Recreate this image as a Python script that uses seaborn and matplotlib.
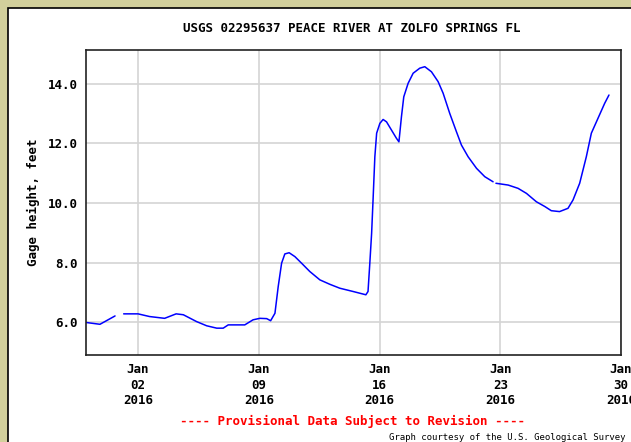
import numpy as np
import pandas as pd
import seaborn as sns
import matplotlib.pyplot as plt
from matplotlib.patches import Rectangle

# gage height readings (NaN = gap in record)
times = [
    "2015-12-30 00:00", "2015-12-30 19:00", "2015-12-31 16:00", "2015-12-31 20:00",
    "2016-01-01 04:00", "2016-01-02 00:00", "2016-01-02 16:00", "2016-01-03 13:00",
    "2016-01-04 05:00", "2016-01-04 15:00", "2016-01-05 09:30", "2016-01-05 23:30",
    "2016-01-06 13:30", "2016-01-06 22:30", "2016-01-07 05:30", "2016-01-08 04:30",
    "2016-01-08 16:00", "2016-01-09 01:30", "2016-01-09 11:00", "2016-01-09 16:30",
    "2016-01-09 22:30", "2016-01-10 03:00", "2016-01-10 07:45", "2016-01-10 12:15",
    "2016-01-10 18:15", "2016-01-11 02:15", "2016-01-11 11:30", "2016-01-11 23:00",
    "2016-01-12 13:00", "2016-01-13 03:00", "2016-01-13 16:45", "2016-01-14 11:15",
    "2016-01-15 05:00", "2016-01-15 08:00", "2016-01-15 10:30", "2016-01-15 13:00",
    "2016-01-15 15:00", "2016-01-15 17:30", "2016-01-15 20:00", "2016-01-16 00:30",
    "2016-01-16 05:00", "2016-01-16 09:45", "2016-01-16 16:30", "2016-01-16 23:30",
    "2016-01-17 03:00", "2016-01-17 06:30", "2016-01-17 09:45", "2016-01-17 15:45",
    "2016-01-17 22:45", "2016-01-18 08:00", "2016-01-18 15:00", "2016-01-19 00:15",
    "2016-01-19 09:30", "2016-01-19 16:30", "2016-01-20 01:45", "2016-01-20 11:00",
    "2016-01-20 18:00", "2016-01-21 03:15", "2016-01-21 15:00", "2016-01-22 02:30",
    "2016-01-22 14:00", "2016-01-22 16:00", "2016-01-22 18:00", "2016-01-23 11:00",
    "2016-01-24 00:45", "2016-01-24 12:30", "2016-01-25 02:15", "2016-01-25 14:00",
    "2016-01-25 23:00", "2016-01-26 10:30", "2016-01-26 22:15", "2016-01-27 05:15",
    "2016-01-27 14:30", "2016-01-27 23:45", "2016-01-28 06:45", "2016-01-28 16:00",
    "2016-01-29 01:15", "2016-01-29 07:15",
]
gage_ft = [
    5.99, 5.93, 6.21, np.nan,
    6.28, 6.28, 6.19, 6.13,
    6.28, 6.25, 6.02, 5.88,
    5.80, 5.80, 5.91, 5.91,
    6.08, 6.13, 6.12, 6.05,
    6.30, 7.19, 7.98, 8.29,
    8.33, 8.20, 7.98, 7.70,
    7.42, 7.27, 7.14, 7.03,
    6.92, 7.03, 7.98, 8.98,
    10.10, 11.55, 12.34, 12.67,
    12.80, 12.72, 12.45, 12.17,
    12.05, 12.89, 13.56, 14.01,
    14.35, 14.52, 14.57, 14.40,
    14.07, 13.68, 13.00, 12.39,
    11.94, 11.55, 11.16, 10.88,
    10.71, np.nan, 10.66, 10.60,
    10.49, 10.32, 10.04, 9.88,
    9.74, 9.71, 9.82, 10.10,
    10.66, 11.55, 12.34, 12.84,
    13.34, 13.62,
]
tick_dates = ["2016-01-02", "2016-01-09", "2016-01-16", "2016-01-23", "2016-01-30"]
tick_labels = ["Jan\n02\n2016", "Jan\n09\n2016", "Jan\n16\n2016", "Jan\n23\n2016", "Jan\n30\n2016"]
y_ticks = [6, 8, 10, 12, 14]

df = pd.DataFrame({"time": pd.to_datetime(times), "gage": gage_ft})
# split at the gaps so the line is broken there
df["seg"] = df["gage"].isna().cumsum()
df = df.dropna()

sns.set_style("white")
plt.rcParams["font.family"] = ["DejaVu Sans Mono"]
plt.rcParams["font.weight"] = "bold"
plt.rcParams["text.color"] = "black"
plt.rcParams["axes.labelcolor"] = "black"
plt.rcParams["xtick.color"] = "black"
plt.rcParams["ytick.color"] = "black"

olive = "#D2D09C"
fig = plt.figure(figsize=(6.31, 4.42), dpi=100, facecolor=olive)
# white panel with a black frame, olive only on the top and left
fig.patches.append(Rectangle((7.5 / 631, -0.01), 1, 1.01 - 7.5 / 442, transform=fig.transFigure,
                             facecolor="white", edgecolor="black", linewidth=1.2, zorder=-1))

ax = fig.add_axes([86.3 / 631, 1 - 355 / 442, (621 - 86.3) / 631, (355 - 50) / 442])
ax.set_zorder(2)
sns.lineplot(data=df, x="time", y="gage", units="seg", estimator=None,
             color="#0000FF", linewidth=1.1, ax=ax)

ax.set_xlim(pd.Timestamp("2015-12-30"), pd.Timestamp("2016-01-30"))
ax.set_ylim(4.9, 15.13)
ax.set_xticks(pd.to_datetime(tick_dates))
ax.set_xticklabels(tick_labels, fontsize=9, fontweight="bold", linespacing=1.25)
ax.set_yticks(y_ticks)
ax.set_yticklabels([f"{v:.1f}" for v in y_ticks], fontsize=9, fontweight="bold")
ax.tick_params(length=0, pad=6)
ax.grid(True, color="#D4D4D4", linewidth=1.2)
ax.set_axisbelow(True)
for s in ax.spines.values():
    s.set_color("#222222")
    s.set_linewidth(1.2)
ax.set_xlabel("")
ax.set_ylabel("Gage height, feet", fontsize=9, fontweight="bold", labelpad=6)

fig.text(352 / 631, 1 - 28 / 442, "USGS 02295637 PEACE RIVER AT ZOLFO SPRINGS FL",
         ha="center", va="center", fontsize=9, fontweight="bold")
fig.text(352 / 631, 1 - 421 / 442, "---- Provisional Data Subject to Revision ----",
         ha="center", va="center", fontsize=9, fontweight="bold", color="#FF0000")
fig.text(389 / 631, 1 - 437 / 442, "Graph courtesy of the U.S. Geological Survey",
         ha="left", va="center", fontsize=6.5, fontweight="normal")

fig.savefig("out.png", dpi=100, facecolor=olive)
